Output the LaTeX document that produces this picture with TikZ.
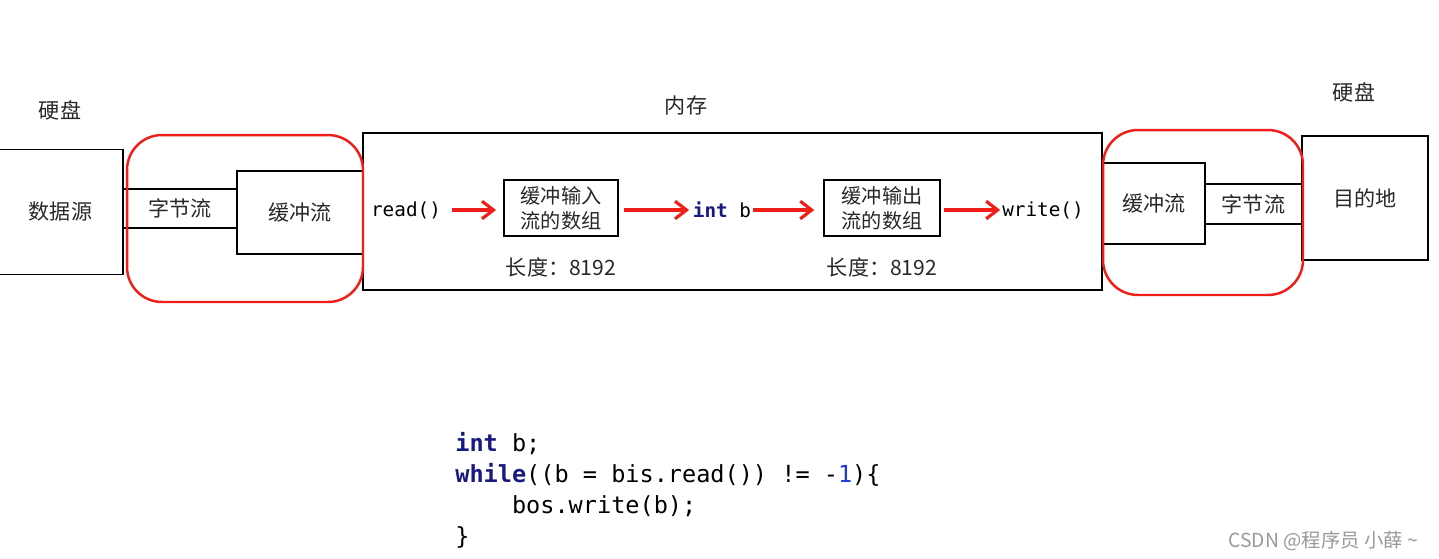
\documentclass[tikz,border=0pt]{standalone}
\usepackage{fontspec}
\setmainfont{Noto Sans CJK SC}
\setmonofont{DejaVu Sans Mono}
\usetikzlibrary{arrows.meta, positioning}
\definecolor{flowred}{RGB}{240,30,25}
\definecolor{kwnavy}{RGB}{25,25,130}
\definecolor{numblue}{RGB}{30,60,220}
\definecolor{txtgray}{RGB}{40,40,40}

\begin{document}
\begin{tikzpicture}[x=0.02cm, y=-0.02cm,
  box/.style={draw, line width=1.1pt, inner sep=0pt, font=\fontsize{12}{14}\selectfont, text=txtgray},
  arrbox/.style={box, align=center, minimum height=1.12cm, font=\fontsize{11.5}{14.2}\selectfont},
  grp/.style={draw=flowred, line width=1.4pt, rounded corners=0.7cm, inner sep=0pt},
  lbl/.style={font=\fontsize{12}{14}\selectfont, text=txtgray},
  mono/.style={font=\ttfamily\fontsize{11}{13}\selectfont, inner sep=1pt},
  code/.style={font=\ttfamily\fontsize{13.4}{17.6}\selectfont, inner sep=0pt, anchor=base west},
  arr/.style={-{Straight Barb[length=6.5pt, width=10pt]}, flowred, line width=1.8pt},
]
\fill[white] (0,0) rectangle (1439,558);
\useasboundingbox (0,0) rectangle (1439,558);

% hard disk side
\node[box, minimum width=2.5cm, minimum height=2.5cm] (src) at (60.5,212) {数据源};
\node[box, minimum width=2.28cm, minimum height=0.78cm] (byteL) at (180,208.5) {字节流};
\node[box, minimum width=2.52cm, minimum height=1.66cm] (bufL) at (300,212.5) {缓冲流};
\node[lbl] (diskL) at (60,110) {硬盘};

% memory
\node[box, minimum width=14.78cm, minimum height=3.14cm] (mem) at (732.5,211.5) {};
\node[lbl] (memL) at (686,106) {内存};
\node[mono] (rd) at (406,210) {read()};
\node[arrbox, minimum width=2.28cm] (inA) at (561,208) {缓冲输入\\流的数组};
\node[mono] (ib) at (722,210) {\textcolor{kwnavy}{\bfseries int} b};
\node[arrbox, minimum width=2.32cm] (outA) at (882,208) {缓冲输出\\流的数组};
\node[mono] (wr) at (1043,210) {write()};
\node[lbl, below=0.3cm of inA] (lenIn) {长度：8192};
\node[lbl, below=0.3cm of outA] (lenOut) {长度：8192};

\draw[arr, shorten <=5pt, shorten >=4pt] (rd.east) -- (rd.east -| inA.west);
\draw[arr, shorten <=3pt, shorten >=1pt] (ib.west -| inA.east) -- (ib.west);
\draw[arr, shorten >=5pt] (ib.east) -- (ib.east -| outA.west);
\draw[arr, shorten <=2pt] (wr.west -| outA.east) -- (wr.west);

% target side
\node[box, minimum width=2.04cm, minimum height=1.62cm] (bufR) at (1154,203.5) {缓冲流};
\node[box, minimum width=1.94cm, minimum height=0.8cm] (byteR) at (1253.5,204) {字节流};
\node[box, minimum width=2.52cm, minimum height=2.48cm] (dst) at (1365,198) {目的地};
\node[lbl] (diskR) at (1354,92) {硬盘};

% buffered stream groups
\node[grp, minimum width=4.72cm, minimum height=3.34cm] (grpL) at (245,218.5) {};
\node[grp, minimum width=4.0cm, minimum height=3.3cm] (grpR) at (1203,212.5) {};

% code
\node[code] (c1) at (455,451) {\textcolor{kwnavy}{\bfseries int} b;};
\node[code] (c2) at (455,482) {\textcolor{kwnavy}{\bfseries while}((b = bis.read()) != -\textcolor{numblue}{1})\{};
\node[code] (c3) at (455,513) {\phantom{abcd}bos.write(b);};
\node[code] (c4) at (455,544) {\}};

\node[font=\fontsize{11}{12}\selectfont, text=gray!80, anchor=base east] (mark) at (1424,547) {CSDN @程序员 小薛 \textasciitilde};
\end{tikzpicture}
\end{document}
